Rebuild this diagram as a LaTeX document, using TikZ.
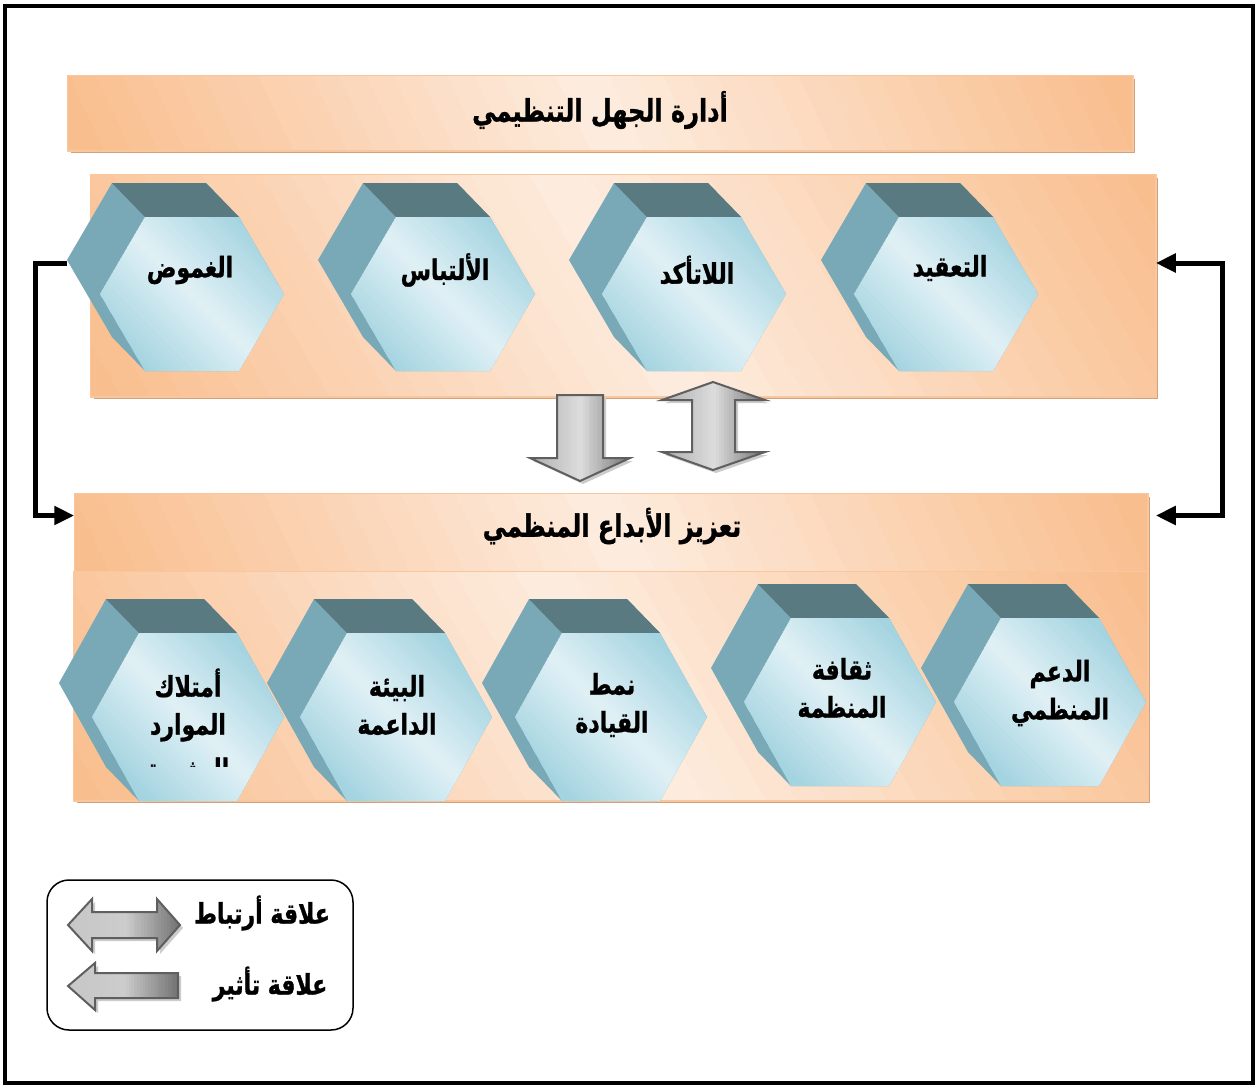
\documentclass[tikz,border=0pt]{standalone}
\usepackage{fontspec}
\usetikzlibrary{arrows.meta,shadows,calc}
\TeXXeTstate=1
\newfontfamily\arabicfont[Script=Arabic, BoldFeatures={FakeBold=1.2}]{DejaVu Sans}
\newcommand\ar[1]{\scalebox{1}[1.28]{\beginR #1\endR}}
\definecolor{ordark}{HTML}{F9BE8E}
\definecolor{orlight}{HTML}{FDEBDD}
\definecolor{orborder}{HTML}{F9C79E}
\definecolor{shtan}{HTML}{D3A27C}
\definecolor{hexlight}{HTML}{DFF0F5}
\definecolor{hexdark}{HTML}{A5D4E1}
\definecolor{hexside}{HTML}{79A9B6}
\definecolor{hextop}{HTML}{5A7A82}
\definecolor{arrline}{HTML}{5F5F5F}
\colorlet{garA}{black!32}
\colorlet{garB}{black!14}
\colorlet{garC}{black!55}
\colorlet{glgA}{black!22}
\colorlet{glgB}{black!20}
% gradient by strips: angle, R (axis half length), L (strip half length), c1, c2, c3
\newcommand\gstrips[6]{%
\begin{scope}[shift={(path picture bounding box.center)}, rotate=#1]
\pgfmathsetmacro\gstep{#2/20}%
\fill[#4] ({-#2-1500},{-#3}) rectangle ({-#2+1},{#3});
\fill[#6] ({#2-1},{-#3}) rectangle ({#2+1500},{#3});
\foreach \i in {0,...,39}{%
 \ifnum\i<20 \pgfmathtruncatemacro\pp{\i*100/19}\colorlet{gtmp}{#5!\pp!#4}%
 \else \pgfmathtruncatemacro\pp{(\i-20)*100/19}\colorlet{gtmp}{#6!\pp!#5}\fi
 \fill[gtmp] ({-#2+\i*\gstep},{-#3}) rectangle ({-#2+(\i+1.4)*\gstep},{#3});
}
\end{scope}}
% gradient over an already placed panel node: node, angle, R
\newcommand\panelgrad[3]{%
\path[path picture={\gstrips{#2}{#3}{700}{ordark}{orlight}{ordark}}] (#1.south west) rectangle (#1.north east);
\draw[orborder, line width=1.5pt] (#1.south west) rectangle (#1.north east);}
\tikzset{
  panelbase/.style={draw=orborder, fill=ordark, line width=1.5pt, inner sep=0pt,
    general shadow={fill=shtan, shadow xshift=3pt, shadow yshift=-3pt}},
  hextext/.style={font=\arabicfont\bfseries\fontsize{22}{38}\selectfont, align=center, inner sep=0pt},
  titletext/.style={font=\arabicfont\bfseries\fontsize{24}{30}\selectfont},
  blockarrow/.style={draw=arrline, line width=2pt, line join=miter,
    general shadow={fill=black!20, shadow xshift=3pt, shadow yshift=-3pt}},
  conn/.style={line width=5pt, line join=miter, arrows={-Triangle[length=20pt,width=18pt]}},
}
% name cx cy a b c
\newcommand\mkhex[6]{%
\begin{scope}[shift={(#2,#3)}]
\fill[hexside] ({-#6-33},{-#5-34}) -- ({#6-33},{-#5-34}) -- (#6,-#5) -- (#4,0) -- (#6,#5) -- (-#6,#5) -- ({-#6-33},{#5-34}) -- ({-#4-33},-34) -- cycle;
\fill[hextop] ({-#6-33},{-#5-34}) -- ({#6-33},{-#5-34}) -- (#6,-#5) -- (-#6,-#5) -- cycle;
\path[path picture={\gstrips{45}{88}{160}{hexdark}{hexlight}{hexdark}}] (-#4,0) -- (-#6,-#5) -- (#6,-#5) -- (#4,0) -- (#6,#5) -- (-#6,#5) -- cycle;
\coordinate (#1-w) at ({-#4-33},-31);
\end{scope}}
\begin{document}
\begin{tikzpicture}[x=1pt,y=-1pt]
\useasboundingbox (0,0) rectangle (1258,1088);
\fill[white] (0,0) rectangle (1258,1088);
\draw[line width=4pt] (5,6) rectangle (1253,1083);
\draw[line width=3pt] (5,6) -- (1253,6);

% top title
\node[panelbase, minimum width=1064pt, minimum height=74pt] (t1) at (600,113) {};
\panelgrad{t1}{25}{490}
\node[titletext] (t1txt) at (600,110) {\ar{أدارة الجهل التنظيمي}};

% top panel
\node[panelbase, minimum width=1064pt, minimum height=221pt] (p1) at (623,285.5) {};
\panelgrad{p1}{30}{516}
\mkhex{hA}{192}{294}{92}{77}{47}
\mkhex{hB}{443}{294}{92}{77}{47}
\mkhex{hC}{694}{294}{92}{77}{47}
\mkhex{hD}{946}{294}{92}{77}{47}
\node[hextext] (tA) at (190,270) {\ar{الغموض}};
\node[hextext] (tB) at (445,270) {\ar{الألتباس}};
\node[hextext] (tC) at (697,270) {\ar{اللاتأكد}};
\node[hextext] (tD) at (950,268) {\ar{التعقيد}};

% arrows between
\path[blockarrow, path picture={\gstrips{0}{52}{120}{garA}{garB}{garC}}] (557,395) -- (603,395) -- (603,458) -- (630,458) -- (580,481) -- (530,458) -- (557,458) -- cycle;
\path[blockarrow, path picture={\gstrips{0}{52}{120}{garA}{garB}{garC}}] (713,382) -- (765,400) -- (735,400) -- (735,452) -- (765,452) -- (713,470) -- (662,452) -- (692,452) -- (692,400) -- (662,400) -- cycle;

% bottom title and panel
\node[panelbase, minimum width=1072pt, minimum height=81pt] (t2) at (611,534.5) {};
\panelgrad{t2}{25}{495}
\node[panelbase, minimum width=1073pt, minimum height=228pt] (p2) at (610.5,686) {};
\panelgrad{p2}{30}{521}
\node[titletext] (t2txt) at (612,526) {\ar{تعزيز الأبداع المنظمي}};

\mkhex{hE}{188}{717}{96}{84}{49}
\mkhex{hF}{396}{717}{96}{84}{49}
\mkhex{hG}{611}{717}{96}{84}{49}
\mkhex{hH}{840}{702}{96}{84}{49}
\mkhex{hI}{1050}{702}{96}{84}{49}
\node[hextext] (tE) at (188,705) {\ar{أمتلاك}\\\ar{الموارد}};
\begin{scope}
\clip (100,752) rectangle (280,766);
\node[hextext, anchor=base] (tE3) at (188,779) {\ar{البشرية}};
\end{scope}
\node[hextext] (tF) at (397,705) {\ar{البيئة}\\\ar{الداعمة}};
\node[hextext] (tG) at (612,705) {\ar{نمط}\\\ar{القيادة}};
\node[hextext] (tH) at (842,688) {\ar{ثقافة}\\\ar{المنظمة}};
\node[hextext] (tI) at (1060,693) {\ar{الدعم}\\\ar{المنظمي}};

% connectors
\coordinate (lc) at (35,263);
\draw[conn] (hA-w) -- (lc) |- ([yshift=19pt]t2.west);
\draw[conn, arrows={Triangle[length=20pt,width=18pt]-Triangle[length=20pt,width=18pt]}] ([yshift=22.5pt]p1.east) -- ++(67,0) |- ([yshift=19pt,xshift=8pt]t2.east);

% legend
\node[draw, line width=1.5pt, rounded corners=22pt, minimum width=306pt, minimum height=150pt, inner sep=0pt] (leg) at (200,955) {};
\path[blockarrow, path picture={\gstrips{0}{57}{80}{glgA}{glgB}{garC}}] (68,925) -- (92,899) -- (92,912) -- (157,912) -- (157,899) -- (180,925) -- (157,951) -- (157,938) -- (92,938) -- (92,951) -- cycle;
\path[blockarrow, path picture={\gstrips{0}{56}{80}{glgA}{glgB}{garC}}] (68,986) -- (95,963) -- (95,973) -- (178,973) -- (178,998) -- (95,998) -- (95,1010) -- cycle;
\node[hextext] (l1) at (262,913) {\ar{علاقة أرتباط}};
\node[hextext] (l2) at (270,984) {\ar{علاقة تأثير}};
\end{tikzpicture}
\end{document}
